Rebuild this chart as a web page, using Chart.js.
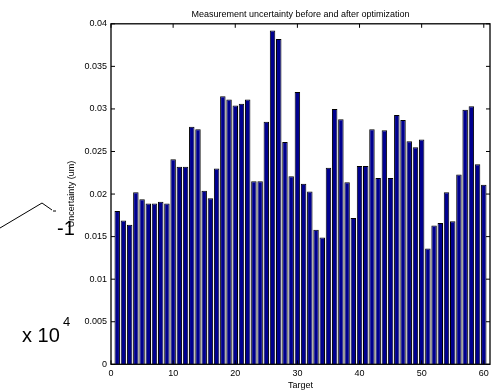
<!DOCTYPE html>
<html>
<head>
<meta charset="utf-8">
<script src="https://cdn.jsdelivr.net/npm/chart.js@4/dist/chart.umd.min.js"></script>
<style>
  body { margin: 0; background: #fff; }
  canvas { display: block; }
</style>
</head>
<body>
<canvas id="myChart" width="496" height="391"></canvas>
<script>
// uncertainty per target (um), targets 1..60
const targets = [];
for (let i = 1; i <= 60; i++) targets.push(i);

const uncertainty = [
	0.0180, 0.0169, 0.0164, 0.0202, 0.0194, 0.0189, 0.0189, 0.0191, 0.0189, 0.0241,
	0.0232, 0.0232, 0.0279, 0.0276, 0.0204, 0.0195, 0.0230, 0.0315, 0.0311, 0.0304,
	0.0306, 0.0311, 0.0215, 0.0215, 0.0285, 0.0392, 0.0382, 0.0261, 0.0221, 0.0320,
	0.0212, 0.0203, 0.0158, 0.0149, 0.0231, 0.0300, 0.0288, 0.0214, 0.0172, 0.0233,
	0.0233, 0.0276, 0.0219, 0.0275, 0.0219, 0.0293, 0.0287, 0.0262, 0.0255, 0.0264,
	0.0136, 0.0163, 0.0166, 0.0202, 0.0168, 0.0223, 0.0299, 0.0303, 0.0235, 0.0211
];

const xTickValues = [0, 10, 20, 30, 40, 50, 60];
const xTickLabels = ['0', '10', '20', '30', '40', '50', '60'];
const yTickValues = [0, 0.005, 0.01, 0.015, 0.02, 0.025, 0.03, 0.035, 0.04];
const yTickLabels = ['0', '0.005', '0.01', '0.015', '0.02', '0.025', '0.03', '0.035', '0.04'];

const FONT = "'Liberation Sans', Arial, sans-serif";

// box around the axes with inward tick marks
const frame = {
	id: 'frame',
	afterDatasetsDraw(chart) {
		const { ctx, chartArea: a, scales: { x, y } } = chart;
		const len = 4;
		ctx.save();
		ctx.strokeStyle = '#000';
		ctx.lineWidth = 1;
		ctx.beginPath();
		y.ticks.forEach(t => {
			const py = y.getPixelForValue(t.value);
			ctx.moveTo(a.left, py); ctx.lineTo(a.left + len, py);
			ctx.moveTo(a.right, py); ctx.lineTo(a.right - len, py);
		});
		x.ticks.forEach(t => {
			const px = x.getPixelForValue(t.value);
			ctx.moveTo(px, a.top); ctx.lineTo(px, a.top + len);
			ctx.moveTo(px, a.bottom); ctx.lineTo(px, a.bottom - len);
		});
		ctx.stroke();
		ctx.lineWidth = 1.3;
		ctx.strokeRect(a.left, a.top, a.right - a.left, a.bottom - a.top);
		ctx.restore();
	}
};

// leftover exponent text and arrow on the left side
const stray = {
	id: 'stray',
	afterDraw(chart) {
		const ctx = chart.ctx;
		ctx.save();
		ctx.fillStyle = '#000';
		ctx.textBaseline = 'alphabetic';
		ctx.font = '20px ' + FONT;
		ctx.fillText('-1', 57, 235);
		ctx.fillText('x 10', 22, 342);
		ctx.font = '13px ' + FONT;
		ctx.fillText('4', 63, 326);
		ctx.strokeStyle = '#000';
		ctx.lineWidth = 1;
		ctx.beginPath();
		ctx.moveTo(0, 228);
		ctx.lineTo(42, 203);
		ctx.lineTo(52, 210);
		ctx.moveTo(53, 211);
		ctx.lineTo(56, 211);
		ctx.stroke();
		ctx.restore();
	}
};

const config = {
	type: 'bar',
	data: {
		datasets: [{
			data: targets.map((t, i) => ({ x: t, y: uncertainty[i] })),
			backgroundColor: '#00008F',
			borderColor: '#000',
			borderWidth: 1,
			barPercentage: 0.88,
			categoryPercentage: 1.0
		}]
	},
	options: {
		responsive: false,
		animation: false,
		layout: { padding: { left: 66, right: 6, top: 0, bottom: 0 } },
		plugins: {
			legend: { display: false },
			tooltip: { enabled: false },
			title: {
				display: true,
				fullSize: false,
				text: 'Measurement uncertainty before and after optimization',
				color: '#000',
				font: { family: FONT, size: 9, weight: 'normal' },
				padding: { top: 9, bottom: 4 }
			}
		},
		scales: {
			x: {
				type: 'linear',
				min: 0,
				max: 61,
				offset: false,
				grid: { display: false, drawTicks: false, offset: false },
				border: { display: false },
				afterBuildTicks: s => { s.ticks = xTickValues.map(v => ({ value: v })); },
				afterFit: s => { s.height = 26.7; },
				ticks: {
					padding: 4,
					color: '#000',
					font: { family: FONT, size: 9 },
					callback: (v, i) => xTickLabels[i]
				},
				title: {
					display: true,
					text: 'Target',
					color: '#000',
					font: { family: FONT, size: 9 },
					padding: { top: 0, bottom: 0.5 }
				}
			},
			y: {
				min: 0,
				max: 0.04,
				grid: { display: false, drawTicks: false },
				border: { display: false },
				afterBuildTicks: s => { s.ticks = yTickValues.map(v => ({ value: v })); },
				afterFit: s => { s.width = 45; },
				ticks: {
					padding: 4,
					color: '#000',
					font: { family: FONT, size: 9 },
					callback: (v, i) => yTickLabels[i]
				},
				title: {
					display: true,
					text: 'Uncertainty (um)',
					color: '#000',
					font: { family: FONT, size: 9 },
					padding: { top: 0, bottom: 0 }
				}
			}
		}
	},
	plugins: [frame, stray]
};

var myChart = new Chart(document.getElementById('myChart'), config);
</script>
</body>
</html>
